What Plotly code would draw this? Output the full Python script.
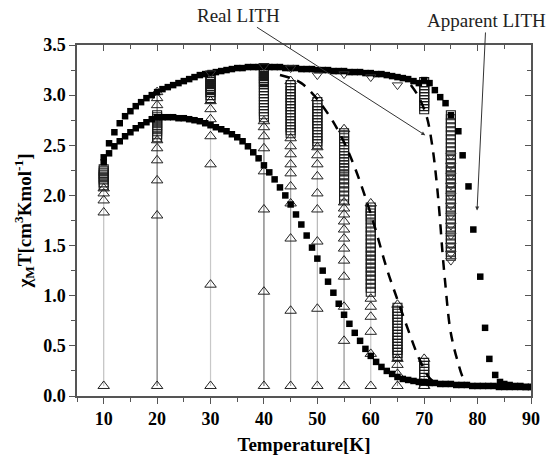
import plotly.graph_objects as go

# filled squares, upper branch
upper_T = [10, 11, 12, 13, 14, 15, 16, 17, 18, 19, 20, 21, 22, 23, 24, 25, 26, 27, 28, 29,
           30, 31, 32, 33, 34, 35, 36, 37, 38, 39, 40, 41, 42, 43, 44, 45, 46, 47, 48, 49,
           50, 51, 52, 53, 54, 55, 56, 57, 58, 59, 60, 61, 62, 63, 64, 65, 66, 67, 68, 69,
           70, 71, 72, 73, 74, 75, 76.4, 77.2, 78.3, 79.2, 80.5, 81.4, 82.2, 83.3, 84.2,
           85, 86, 87, 88, 89, 90]
upper_chi = [2.38, 2.52, 2.63, 2.72, 2.79, 2.84, 2.89, 2.93, 2.97, 3.00, 3.03, 3.06, 3.08, 3.10,
             3.12, 3.14, 3.16, 3.18, 3.20, 3.21, 3.22, 3.23, 3.24, 3.25, 3.26, 3.27, 3.27, 3.28,
             3.28, 3.28, 3.28, 3.28, 3.28, 3.28, 3.27, 3.27, 3.27, 3.26, 3.26, 3.26, 3.25, 3.25,
             3.25, 3.24, 3.24, 3.24, 3.23, 3.23, 3.23, 3.22, 3.22, 3.21, 3.21, 3.20, 3.19, 3.18,
             3.17, 3.16, 3.14, 3.12, 3.15, 3.12, 3.05, 2.98, 2.92, 2.80, 2.64, 2.40, 2.09, 1.66,
             1.19, 0.68, 0.37, 0.21, 0.14, 0.12, 0.11, 0.10, 0.10, 0.09, 0.09]

# filled squares, lower branch
lower_T = [10, 11, 12, 13, 14, 15, 16, 17, 18, 19, 20, 21, 22, 23, 24, 25, 26, 27, 28, 29,
           30, 31, 32, 33, 34, 35, 36, 37, 38, 39, 40, 41, 42, 43, 44, 45, 46, 47, 48, 49,
           50, 51, 52, 53, 54, 55, 56, 57, 58, 59, 60, 61, 62, 63, 64, 65, 66, 67, 68, 69,
           70, 71, 72, 73, 74, 75, 76, 77, 78, 79, 80, 81, 82, 83, 84, 85, 86, 87, 88, 89, 90]
lower_chi = [2.33, 2.42, 2.49, 2.54, 2.59, 2.63, 2.67, 2.70, 2.73, 2.76, 2.78, 2.78, 2.78, 2.78,
             2.77, 2.77, 2.76, 2.75, 2.74, 2.72, 2.70, 2.68, 2.66, 2.64, 2.61, 2.58, 2.54, 2.49,
             2.43, 2.37, 2.30, 2.23, 2.16, 2.08, 2.00, 1.91, 1.81, 1.71, 1.60, 1.48, 1.37, 1.25,
             1.14, 1.03, 0.92, 0.81, 0.72, 0.63, 0.55, 0.47, 0.40, 0.34, 0.29, 0.25, 0.22, 0.19,
             0.17, 0.16, 0.15, 0.14, 0.14, 0.13, 0.13, 0.12, 0.12, 0.12, 0.11, 0.11, 0.11, 0.10,
             0.10, 0.10, 0.10, 0.10, 0.09, 0.09, 0.09, 0.09, 0.09, 0.09, 0.09]

# relaxation columns: open up-triangles and open squares
col_T = [10, 20, 30, 40, 45, 50, 55, 60, 65, 70]
col_tri = [
    [0.10, 1.83, 1.95, 2.02, 2.07],
    [0.10, 1.80, 2.15, 2.35, 2.47, 2.55, 2.90, 2.97, 3.03],
    [0.10, 1.11, 2.31, 2.59, 2.76, 2.86, 2.94],
    [0.10, 1.04, 1.86, 2.24, 2.47, 2.59, 2.68, 2.74],
    [0.10, 0.85, 1.57, 1.92, 2.09, 2.22, 2.31, 2.41, 2.49, 2.57, 3.14],
    [0.10, 0.87, 1.54, 1.86, 2.02, 2.19, 2.31, 2.40, 2.48, 2.97],
    [0.10, 0.55, 0.89, 1.19, 1.35, 1.47, 1.57, 1.66, 1.74, 1.81, 1.87, 1.93, 2.66],
    [0.10, 0.42, 0.64, 0.79, 0.89, 0.97, 1.92],
    [0.10, 0.22, 0.31, 0.37, 0.91],
    [0.10, 0.37],
]
col_sq = [
    [2.10, 2.13, 2.16, 2.18, 2.20, 2.22, 2.24, 2.26],
    [2.58, 2.61, 2.64, 2.66, 2.68, 2.70, 2.72, 2.74, 2.76, 2.78, 2.80],
    [2.97, 3.00, 3.03, 3.05, 3.07, 3.09, 3.11, 3.13, 3.15, 3.17, 3.19],
    [2.78, 2.81, 2.84, 2.87, 2.90, 2.93, 2.96, 2.99, 3.02, 3.05, 3.08, 3.11, 3.13, 3.15,
     3.17, 3.19, 3.21, 3.23, 3.25, 3.27],
    [2.62, 2.65, 2.68, 2.71, 2.74, 2.77, 2.80, 2.83, 2.86, 2.89, 2.92, 2.95, 2.98, 3.01,
     3.04, 3.07, 3.10],
    [2.51, 2.54, 2.57, 2.60, 2.63, 2.66, 2.69, 2.72, 2.75, 2.78, 2.81, 2.84, 2.87, 2.90, 2.93],
    [1.96, 2.00, 2.04, 2.08, 2.12, 2.16, 2.20, 2.24, 2.27, 2.30, 2.33, 2.36, 2.39, 2.42,
     2.45, 2.48, 2.51, 2.54, 2.57, 2.60, 2.62],
    [1.04, 1.08, 1.12, 1.16, 1.20, 1.24, 1.28, 1.32, 1.36, 1.40, 1.44, 1.48, 1.52, 1.56,
     1.60, 1.64, 1.68, 1.72, 1.76, 1.79, 1.82, 1.85, 1.88],
    [0.40, 0.43, 0.46, 0.49, 0.52, 0.55, 0.58, 0.61, 0.64, 0.67, 0.70, 0.73, 0.76, 0.79,
     0.82, 0.85, 0.88],
    [0.12, 0.15, 0.18, 0.21, 0.24, 0.27, 0.30, 0.33, 2.86, 2.89, 2.92, 2.95, 2.98, 3.01,
     3.04, 3.07, 3.10, 3.13],
]

# open down-triangles (end points near the upper branch)
down_T = [30, 40, 45, 50, 55, 60, 65]
down_chi = [3.22, 3.29, 3.27, 3.20, 3.21, 3.18, 3.10]

# 75 K column (apparent LITH, cooling)
c75_sq = [2.80, 2.76, 2.72, 2.68, 2.64, 2.60, 2.56, 2.52, 2.48, 2.44, 2.40, 2.36, 2.32, 2.28,
          2.24, 2.20, 2.16, 2.12, 2.08, 2.04, 2.00, 1.96, 1.92, 1.88, 1.84, 1.80, 1.76, 1.72,
          1.68, 1.64, 1.60, 1.56, 1.52, 1.48, 1.44, 1.40]
c75_down = [2.40, 2.30, 2.20, 2.10, 2.00, 1.90, 1.80, 1.70, 1.60, 1.50, 1.42, 1.35]

# dashed "real LITH" curves
real_up_T = [43, 45, 47, 49, 51, 53, 55, 57, 59, 61, 63, 65, 67, 69, 71, 73]
real_up_chi = [3.20, 3.17, 3.12, 3.02, 2.89, 2.73, 2.53, 2.28, 1.98, 1.64, 1.27, 0.96, 0.66,
               0.38, 0.18, 0.10]
real_dn_T = [67.5, 69, 70.5, 71.5, 72.3, 72.9, 73.4, 73.9, 74.8, 75.5, 76.2, 77.3, 78.5]
real_dn_chi = [3.10, 2.98, 2.78, 2.50, 2.15, 1.80, 1.45, 1.15, 0.69, 0.50, 0.36, 0.18, 0.10]

col_line_colors = ["#c0c0c0", "#707070", "#c8c8c8", "#707070", "#a0a0a0",
                   "#b8b8b8", "#909090", "#c8c8c8", "#909090", "#909090"]

SERIF = "Liberation Serif"
fig = go.Figure()

for T, tri, lc in zip(col_T, col_tri, col_line_colors):
    fig.add_trace(go.Scatter(
        x=[T] * len(tri), y=tri, mode="lines+markers",
        line=dict(color=lc, width=1.2),
        marker=dict(symbol="triangle-up-open", size=10, color="#222",
                    line=dict(width=1)),
        cliponaxis=False))

open_sq = dict(symbol="square-open", size=9, color="#1a1a1a", line=dict(width=1.1))
for T, sq in zip(col_T, col_sq):
    fig.add_trace(go.Scatter(x=[T] * len(sq), y=sq, mode="markers", marker=open_sq))

fig.add_trace(go.Scatter(x=[75] * len(c75_sq), y=c75_sq, mode="markers", marker=open_sq))
fig.add_trace(go.Scatter(
    x=[75] * len(c75_down), y=c75_down, mode="markers",
    marker=dict(symbol="triangle-down-open", size=9, color="#333", line=dict(width=1))))

fig.add_trace(go.Scatter(
    x=upper_T, y=upper_chi, mode="markers",
    marker=dict(symbol="square", size=6.5, color="black")))
fig.add_trace(go.Scatter(
    x=lower_T, y=lower_chi, mode="markers",
    marker=dict(symbol="square", size=6.5, color="black")))

fig.add_trace(go.Scatter(
    x=down_T, y=down_chi, mode="markers",
    marker=dict(symbol="triangle-down-open", size=9, color="#333", line=dict(width=1))))

for xs, ys in [(real_up_T, real_up_chi), (real_dn_T, real_dn_chi)]:
    fig.add_trace(go.Scatter(
        x=xs, y=ys, mode="lines",
        line=dict(color="black", width=2.5, dash="10px,8px", shape="spline")))

# dummy trace so the top/right (inside-tick) axes get drawn
fig.add_trace(go.Scatter(x=[], y=[], xaxis="x2", yaxis="y2", hoverinfo="skip"))

axis_line = dict(showline=True, linecolor="#555", linewidth=1.5, showgrid=False,
                 zeroline=False, automargin=False)
tickfont = dict(family=SERIF, size=18, color="black", weight="bold")
titlefont = dict(family=SERIF, size=19, color="black", weight="bold")

fig.update_layout(
    width=550, height=455,
    margin=dict(l=77, r=19, t=45, b=59),
    paper_bgcolor="white", plot_bgcolor="white",
    showlegend=False,
    xaxis=dict(range=[5, 90], tick0=10, dtick=10, ticks="outside", ticklen=6,
               tickcolor="#555", tickfont=tickfont,
               minor=dict(dtick=5, ticks="outside", ticklen=4, tickcolor="#555"),
               title=dict(text="Temperature[K]", standoff=10, font=titlefont),
               **axis_line),
    yaxis=dict(range=[0, 3.5], dtick=0.5, tickformat=".1f", ticks="outside", ticklen=6,
               tickcolor="#555", tickfont=tickfont,
               minor=dict(dtick=0.25, ticks="outside", ticklen=4, tickcolor="#555"),
               title=dict(text="χ<sub>M</sub>T[cm<sup>3</sup>Kmol<sup>-1</sup>]", standoff=7,
                          font=titlefont),
               **axis_line),
    xaxis2=dict(overlaying="x", side="top", anchor="y2", range=[5, 90], tick0=10, dtick=10,
                ticks="inside", ticklen=6, tickcolor="#555", showticklabels=False,
                minor=dict(dtick=5, ticks="inside", ticklen=4, tickcolor="#555"),
                **axis_line),
    yaxis2=dict(overlaying="y", side="right", anchor="x2", range=[0, 3.5], dtick=0.5,
                ticks="inside", ticklen=6, tickcolor="#555", showticklabels=False,
                minor=dict(dtick=0.25, ticks="inside", ticklen=4, tickcolor="#555"),
                **axis_line),
)

# labels with their arrows (text sits above the plot, arrow points into the data)
fig.add_annotation(x=70.2, y=2.60, xref="x", yref="y", ax=-187, ay=-120,
                   text="Real LITH", showarrow=True, arrowhead=2, arrowsize=0.8,
                   arrowwidth=1, arrowcolor="#333",
                   font=dict(family=SERIF, size=19, color="#222"))
fig.add_annotation(x=79.9, y=1.85, xref="x", yref="y", ax=9, ay=-190,
                   text="Apparent LITH", showarrow=True, arrowhead=2, arrowsize=0.8,
                   arrowwidth=1, arrowcolor="#333",
                   font=dict(family=SERIF, size=19, color="#222"))

fig.write_html("out.html", config={"displayModeBar": False},
               post_script="document.body.style.margin='0';")
